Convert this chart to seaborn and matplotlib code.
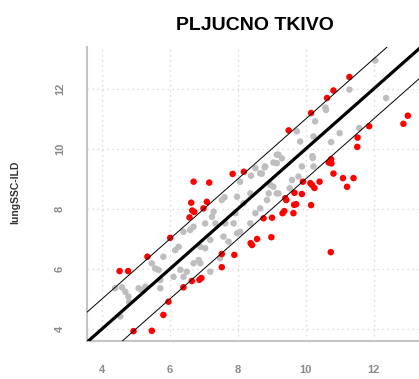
import numpy as np
import pandas as pd
import seaborn as sns
import matplotlib
matplotlib.use("Agg")
import matplotlib.pyplot as plt

# points inside the +/-1 band (gray)
gray_x = [4.39, 4.59, 4.69, 4.78, 4.80, 5.08, 4.54,
          8.52, 8.79, 8.39, 8.71, 9.15, 9.15, 8.07, 7.61, 7.98,
          12.05, 11.29, 12.37, 10.58, 10.60, 10.28, 9.74, 9.84, 10.23, 11.00, 11.58,
          9.20, 9.30, 8.81, 9.05, 10.20, 10.21, 9.89, 10.23, 10.75, 8.66, 8.96, 9.60,
          9.79, 9.20, 9.53,
          7.53, 7.29, 7.24, 7.04, 6.70, 6.60, 6.40, 6.26, 6.16, 5.81, 5.47, 5.57, 5.67,
          5.28, 5.72, 5.17, 7.34, 7.63, 7.88, 8.07, 7.98, 7.73, 7.19, 7.58, 6.90, 7.04,
          6.70, 6.90, 6.31, 6.40, 6.50, 6.11, 5.72, 8.86, 8.52, 8.66, 8.37, 7.93, 9.05,
          8.91, 9.15, 8.37, 8.17, 7.19, 7.48, 6.85]
gray_y = [5.36, 5.39, 5.24, 5.08, 4.90, 5.36, 4.42,
          9.36, 9.39, 9.11, 9.18, 9.81, 9.53, 8.91, 8.39, 8.41,
          12.95, 11.98, 11.70, 11.38, 11.30, 10.92, 10.59, 10.25, 10.42, 10.53, 10.70,
          9.81, 9.69, 9.42, 9.55, 9.76, 9.70, 9.42, 9.42, 10.23, 9.19, 8.81, 8.97,
          9.08, 8.52, 8.69,
          8.30, 7.91, 7.74, 7.52, 7.41, 7.30, 7.24, 6.74, 6.63, 6.41, 6.19, 6.02, 5.97,
          5.41, 5.36, 5.30, 7.52, 7.52, 7.52, 7.24, 7.19, 6.91, 6.97, 7.08, 6.74, 6.69,
          6.19, 6.19, 5.97, 5.74, 5.91, 5.74, 5.63, 8.30, 7.86, 8.02, 7.52, 7.86, 8.74,
          8.52, 8.52, 8.52, 8.19, 5.91, 6.36, 6.30]

# points outside the band (red)
red_x = [4.52, 4.77, 4.93, 5.47,
         6.70, 7.16, 7.85, 8.18,
         11.29, 10.82, 10.63, 10.16, 9.50,
         13.01, 12.88, 11.87, 11.53, 11.52,
         10.75, 10.68, 10.76, 10.82, 11.10, 11.41, 11.22,
         9.92, 10.14, 10.19, 10.41, 10.26, 9.67, 9.89, 9.40,
         6.63, 6.66, 6.72, 6.99, 6.58, 7.09, 6.01, 5.34,
         8.76, 9.01, 8.99, 8.38, 8.42, 8.57, 7.90, 7.53, 7.53,
         6.93, 6.87, 6.65, 6.40, 5.96, 5.81,
         10.74, 9.37, 9.32, 9.64, 9.43, 9.66, 9.72, 10.16]
red_y = [5.93, 5.93, 3.93, 3.94,
         8.91, 8.88, 9.17, 9.24,
         12.40, 11.95, 11.70, 11.20, 10.62,
         11.11, 10.84, 10.76, 10.38, 10.07,
         9.66, 9.55, 9.52, 9.18, 9.03, 9.03, 8.74,
         8.91, 8.86, 8.80, 8.91, 8.70, 8.54, 8.50, 8.36,
         8.21, 7.95, 7.90, 8.02, 7.72, 8.24, 7.04, 6.41,
         7.69, 7.71, 7.06, 6.86, 6.80, 7.00, 6.47, 6.50, 6.06,
         5.70, 5.64, 5.60, 5.39, 4.91, 4.47,
         6.56, 7.93, 7.86, 7.86, 8.30, 8.14, 8.16, 8.13]

x_ticks = [4, 6, 8, 10, 12]
y_ticks = [4, 6, 8, 10, 12]

df = pd.concat([
    pd.DataFrame({"x": gray_x, "y": gray_y, "grp": "in"}),
    pd.DataFrame({"x": red_x, "y": red_y, "grp": "out"}),
])

sns.set_style("white")
plt.rcParams["font.family"] = ["Liberation Sans", "DejaVu Sans"]

fig = plt.figure(figsize=(4.19, 3.79), dpi=100)
ax = fig.add_axes([87 / 419, 38 / 379, 336 / 419, 294 / 379])

sns.scatterplot(data=df, x="x", y="y", hue="grp",
                palette={"in": "#bebebe", "out": "#ff0000"},
                s=22, linewidth=0, legend=False, ax=ax, zorder=3)

ax.axline((0, 0), slope=1, color="black", lw=2.3, zorder=4)
ax.axline((0, 1), slope=1, color="black", lw=0.7, zorder=4)
ax.axline((0, -1), slope=1, color="black", lw=0.7, zorder=4)

ax.set_xlim(3.56, 3.56 + 336 / 33.95)
ax.set_ylim(3.6, 3.6 + 294 / 30)
ax.set_xticks(x_ticks)
ax.set_yticks(y_ticks)
ax.grid(True, color="#d3d3d3", linestyle=(0, (1, 3)), linewidth=0.9)
ax.set_xlabel("")
ax.set_ylabel("")

for side in ["top", "right"]:
    ax.spines[side].set_visible(False)
for side in ["left", "bottom"]:
    ax.spines[side].set_color("#c4c4c4")
    ax.spines[side].set_linewidth(1.5)

ax.tick_params(axis="both", direction="out", length=7, width=1.2, color="black",
               labelcolor="#8a8a8a", labelsize=8)
ax.tick_params(axis="x", pad=10)
ax.tick_params(axis="y", pad=9)
for lab in ax.get_xticklabels() + ax.get_yticklabels():
    lab.set_fontweight("bold")
for lab in ax.get_yticklabels():
    lab.set_rotation(90)
    lab.set_va("center")

fig.text(255 / 419, 1 - 25 / 379, "PLJUCNO TKIVO", ha="center", va="center",
         fontsize=14, fontweight="bold", color="black")
fig.text(15 / 419, 1 - 192 / 379, "lungSSC-ILD", ha="center", va="center",
         rotation=90, fontsize=7.5, fontweight="bold", color="#333333")

fig.savefig("out.png", dpi=100)
